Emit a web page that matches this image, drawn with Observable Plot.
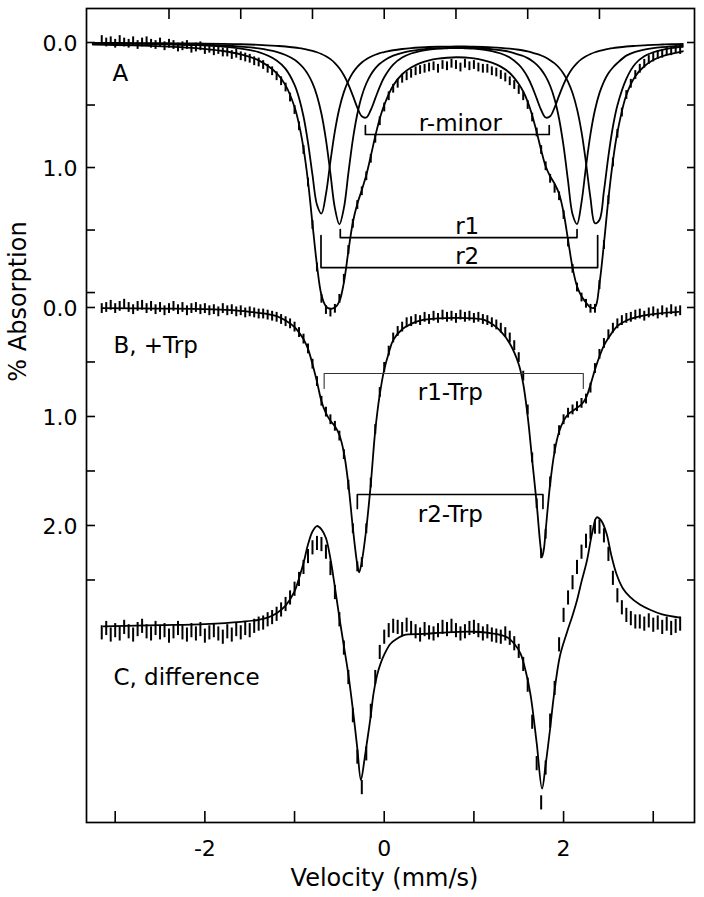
<!DOCTYPE html>
<html><head><meta charset="utf-8">
<script src="https://cdn.jsdelivr.net/npm/d3@7"></script>
<script src="https://cdn.jsdelivr.net/npm/@observablehq/plot@0.6"></script>
<style>
body{margin:0;background:#fff;}
#chart svg{font-family:"DejaVu Sans",sans-serif;}
</style></head><body><div id="chart"></div><script>
// ---- panel placement (spectra stacked on one velocity axis) ----
const panelOffset = {A: -2.431, B: 0, C: 2.945};
const panelScale = {A: 1.147, B: 1, C: 1};
const Y = (p, v) => panelOffset[p] + panelScale[p] * v;

// ---- measured channels (velocity, mm/s) ----
const channelV = [-3.15,-3.1,-3.05,-3,-2.95,-2.9,-2.85,-2.8,-2.75,-2.7,-2.65,-2.6,-2.55,-2.5,-2.45,-2.4,-2.35,-2.3,-2.25,-2.2,-2.15,-2.1,-2.05,-2,-1.95,-1.9,-1.85,-1.8,-1.75,-1.7,-1.65,-1.6,-1.55,-1.5,-1.45,-1.4,-1.35,-1.3,-1.25,-1.2,-1.15,-1.1,-1.05,-1,-0.95,-0.9,-0.85,-0.8,-0.75,-0.7,-0.65,-0.6,-0.55,-0.5,-0.45,-0.4,-0.35,-0.3,-0.25,-0.2,-0.15,-0.1,-0.05,0,0.05,0.1,0.15,0.2,0.25,0.3,0.35,0.4,0.45,0.5,0.55,0.6,0.65,0.7,0.75,0.8,0.85,0.9,0.95,1,1.05,1.1,1.15,1.2,1.25,1.3,1.35,1.4,1.45,1.5,1.55,1.6,1.65,1.7,1.75,1.8,1.85,1.9,1.95,2,2.05,2.1,2.15,2.2,2.25,2.3,2.35,2.4,2.45,2.5,2.55,2.6,2.65,2.7,2.75,2.8,2.85,2.9,2.95,3,3.05,3.1,3.15,3.2,3.25,3.3];

// % absorption x100 at each channel
const dataA = [-2,0,-1,1,-2,0,1,-1,2,0, -1,1,2,0,3,1,2,4,3,2, 5,4,3,6,5,7,6,8,8,10, 9,11,12,13,15,16,18,21,23,27,
  31,36,44,54,67,86,112,146,180,205, 214,216,213,205,189,166,145,130,119,107, 93,77,63,52,43,37,33,29,27,25,
  23,22,21,20,19,21,18,19,17,18, 20,17,19,18,20,21,21,23,24,26, 28,31,34,38,43,50,60,72,86,99,
  109,117,123,138,160,181,196,204,209,213, 213,194,162,126,96,73,56,42,33,26, 21,17,14,12,10,9,7,7,5,6];
const dataB = [1,0,-2,1,-1,-3,0,2,-1,-2, 1,-1,2,0,3,1,-1,2,0,3, 1,0,2,1,3,2,4,1,3,2, 4,3,5,4,5,6,6,7,8,9,
  11,13,15,18,23,29,38,52,68,86, 96,103,109,118,135,163,203,238,234,203, 161,112,78,55,40,28,22,18,14,13,
  11,12,9,11,8,10,7,9,8,10, 7,9,8,10,9,11,12,14,16,19, 23,28,35,46,63,94,138,180,226,208,
  160,130,113,103,97,94,91,88,84,74, 56,43,33,25,19,15,12,10,9,7, 6,8,5,4,6,3,5,2,4,3];
const dataC = [4,0,6,2,5,-1,3,6,1,-2, 3,5,0,4,2,7,3,0,4,6, 2,5,1,7,4,2,5,8,3,6, 1,4,0,2,-2,-4,-5,-8,-10,-13,
  -17,-22,-28,-36,-45,-56,-66,-74,-78,-77, -70,-55,-33,-8,18,45,80,118,146,115, 76,45,22,8,2,-2,-1,1,-3,0,
  3,6,1,4,5,2,-1,1,-2,2, 5,3,0,-1,2,5,3,6,7,8, 5,9,14,21,33,52,86,124,160,128,
  85,55,15,-12,-28,-42,-56,-70,-80,-88, -93,-93,-85,-68,-46,-30,-19,-12,-9,-6, -6,-4,-7,-3,-5,-1,-4,0,-2,-4];
const errorBar = {A: 0.035, B: 0.045, C: 0.065};

// ---- fitted curves ----
const fitVA = [-3.25,-3,-2.7,-2.4,-2.1,-1.8,-1.6,-1.4,-1.2,-1.1,-1,-0.95,-0.9,-0.85,-0.8,-0.75,-0.7,-0.65,-0.6,-0.55,-0.5,-0.45,-0.4,-0.35,-0.3,-0.25,-0.2,-0.15,-0.1,-0.05,0,0.1,0.2,0.3,0.4,0.5,0.6,0.7,0.8,0.9,1,1.1,1.2,1.3,1.4,1.5,1.55,1.6,1.65,1.7,1.75,1.8,1.85,1.9,1.95,2,2.05,2.1,2.15,2.2,2.25,2.3,2.35,2.4,2.45,2.5,2.55,2.6,2.7,2.8,2.9,3,3.1,3.2,3.33];
const fitAminor = [0.003,0.004,0.005,0.006,0.008,0.011,0.014,0.019,0.027,0.032,0.040,0.045,0.051,0.058,0.067,0.078,0.092,0.110,0.133,0.164,0.206,0.262,0.334,0.425,0.52,0.59,0.60,0.54,0.447,0.355,0.278,0.177,0.12,0.088,0.068,0.056,0.049,0.046,0.044,0.046,0.049,0.056,0.068,0.088,0.12,0.177,0.22,0.278,0.355,0.447,0.54,0.60,0.59,0.52,0.425,0.334,0.262,0.206,0.164,0.133,0.110,0.092,0.078,0.067,0.058,0.051,0.045,0.040,0.032,0.027,0.023,0.019,0.016,0.014,0.012];
const fitAr1 = [0.006,0.007,0.009,0.012,0.016,0.024,0.033,0.047,0.075,0.100,0.138,0.167,0.204,0.255,0.325,0.425,0.570,0.776,1.047,1.325,1.454,1.325,1.047,0.776,0.572,0.427,0.328,0.258,0.207,0.170,0.143,0.105,0.082,0.067,0.057,0.050,0.046,0.043,0.042,0.042,0.044,0.048,0.054,0.062,0.075,0.097,0.108,0.125,0.148,0.177,0.217,0.271,0.346,0.454,0.610,0.829,1.109,1.373,1.452,1.278,0.992,0.732,0.540,0.405,0.312,0.246,0.200,0.164,0.105,0.075,0.057,0.045,0.037,0.031,0.025];
const fitAr2 = [0.007,0.008,0.011,0.015,0.021,0.033,0.048,0.077,0.143,0.211,0.338,0.443,0.592,0.80,1.059,1.297,1.368,1.213,0.951,0.709,0.526,0.397,0.307,0.242,0.195,0.160,0.134,0.114,0.098,0.085,0.077,0.062,0.052,0.045,0.040,0.036,0.034,0.033,0.032,0.032,0.034,0.036,0.039,0.043,0.049,0.058,0.064,0.071,0.080,0.091,0.104,0.120,0.141,0.167,0.202,0.249,0.314,0.404,0.533,0.715,0.962,1.244,1.446,1.42,1.189,0.908,0.674,0.503,0.29,0.17,0.11,0.078,0.058,0.045,0.035];
const fitAtotal = [0.016,0.020,0.025,0.033,0.045,0.068,0.095,0.143,0.245,0.343,0.516,0.655,0.847,1.11,1.45,1.78,2.02,2.11,2.13,2.12,2.07,1.92,1.67,1.44,1.29,1.18,1.06,0.91,0.75,0.61,0.50,0.344,0.254,0.20,0.165,0.142,0.129,0.122,0.118,0.12,0.127,0.14,0.161,0.193,0.244,0.332,0.392,0.474,0.583,0.715,0.861,0.99,1.07,1.13,1.21,1.36,1.58,1.80,1.95,2.03,2.08,2.12,2.12,1.93,1.61,1.25,0.95,0.72,0.42,0.27,0.19,0.14,0.11,0.09,0.07];

const fitVB = [-3.15,-2.5,-2.0,-1.7,-1.5,-1.3,-1.2,-1.1,-1.0,-0.95,-0.9,-0.85,-0.8,-0.75,-0.7,-0.65,-0.6,-0.55,-0.5,-0.45,-0.4,-0.35,-0.3,-0.28,-0.25,-0.2,-0.15,-0.1,-0.05,0,0.05,0.1,0.2,0.3,0.4,0.6,0.8,1.0,1.1,1.2,1.3,1.4,1.5,1.55,1.6,1.65,1.7,1.74,1.76,1.78,1.8,1.85,1.9,1.95,2.0,2.05,2.1,2.15,2.2,2.25,2.3,2.35,2.4,2.45,2.5,2.6,2.7,2.8,3.0,3.28];
const fitB = [0.005,0.01,0.015,0.025,0.04,0.06,0.08,0.12,0.18,0.23,0.29,0.38,0.52,0.68,0.86,0.97,1.04,1.09,1.17,1.33,1.62,2.02,2.36,2.43,2.33,2.03,1.62,1.13,0.80,0.57,0.42,0.30,0.20,0.15,0.12,0.10,0.095,0.10,0.11,0.15,0.22,0.33,0.52,0.70,1.00,1.40,1.80,2.17,2.29,2.22,2.05,1.62,1.32,1.14,1.04,0.98,0.95,0.92,0.89,0.83,0.71,0.57,0.45,0.35,0.28,0.17,0.12,0.09,0.06,0.04];

const fitVC = [-3.13,-2.5,-2.0,-1.6,-1.4,-1.3,-1.2,-1.1,-1.0,-0.95,-0.9,-0.85,-0.8,-0.75,-0.7,-0.65,-0.6,-0.55,-0.5,-0.45,-0.4,-0.35,-0.3,-0.26,-0.22,-0.19,-0.15,-0.12,-0.08,-0.04,0,0.07,0.15,0.22,0.44,0.7,1.0,1.2,1.37,1.45,1.52,1.58,1.63,1.7,1.76,1.8,1.85,1.89,1.96,2.04,2.1,2.15,2.2,2.26,2.32,2.37,2.42,2.48,2.53,2.59,2.66,2.74,2.85,2.97,3.1,3.3];
const fitC = [-0.02,-0.03,-0.04,-0.06,-0.08,-0.10,-0.14,-0.21,-0.34,-0.46,-0.60,-0.77,-0.89,-0.94,-0.91,-0.83,-0.64,-0.38,-0.10,0.16,0.42,0.74,1.10,1.39,1.20,1.03,0.80,0.60,0.43,0.32,0.24,0.14,0.09,0.06,0.05,0.035,0.03,0.045,0.08,0.14,0.23,0.40,0.60,1.05,1.47,1.25,0.92,0.63,0.25,0.03,-0.12,-0.26,-0.43,-0.62,-0.88,-1.02,-0.99,-0.87,-0.68,-0.50,-0.37,-0.29,-0.22,-0.17,-0.13,-0.10];

// ---- quadrupole doublet brackets ----
const bracketName = ["r-minor", "r1", "r2", "r1-Trp", "r2-Trp"];
const bracketPanel = ["A", "A", "A", "B", "B"];
const bracketLeft = [-0.21, -0.49, -0.705, -0.67, -0.30];
const bracketRight = [1.84, 2.15, 2.38, 2.22, 1.77];
const bracketLevel = [0.736, 1.56, 1.80, 0.605, 1.716];
const bracketTickEnd = [0.664, 1.496, 1.544, 0.743, 1.844];
const bracketLabelX = [0.85, 0.925, 0.925, 0.736, 0.736];
const bracketLabelLevel = [0.704, 1.528, 1.768, 0.853, 1.972];

// ---- panel captions ----
const captionText = ["A", "B, +Trp", "C, difference"];
const captionPanel = ["A", "B", "C"];
const captionX = [-3.03, -3.02, -3.02];
const captionLevel = [0.304, 0.422, 0.514];

// ---- axis ticks ----
const xTicksBottom = [-3, -2, -1, 0, 1, 2, 3];
const xLabelTicks = [-2, 0, 2];
const xTicksTop = [-2.4, -1.6, -0.8, 0, 0.8, 1.6, 2.4];
const yTicksA = [0, 0.5, 1, 1.5, 2];
const yTicksB = [0, 0.5, 1, 1.5, 2, 2.5];
const yLabelsA = [0, 1];
const yLabelsB = [0, 1, 2];

// ---- build tables ----
const dataRows = [];
[["A", dataA], ["B", dataB], ["C", dataC]].forEach(([p, arr]) => arr.forEach((val, i) => {
  dataRows.push({v: channelV[i], lo: Y(p, val / 100 - errorBar[p]), hi: Y(p, val / 100 + errorBar[p])});
}));
const fitRows = [];
function addFit(name, p, vs, ys) { vs.forEach((v, i) => fitRows.push({name, v, y: Y(p, ys[i])})); }
addFit("A r-minor", "A", fitVA, fitAminor);
addFit("A r1", "A", fitVA, fitAr1);
addFit("A r2", "A", fitVA, fitAr2);
addFit("A total", "A", fitVA, fitAtotal);
addFit("B", "B", fitVB, fitB);
addFit("C", "C", fitVC, fitC);

const bracketRows = [];
bracketName.forEach((n, i) => {
  const p = bracketPanel[i];
  [[bracketLeft[i], bracketTickEnd[i]], [bracketLeft[i], bracketLevel[i]], [bracketRight[i], bracketLevel[i]], [bracketRight[i], bracketTickEnd[i]]]
    .forEach(([v, l]) => bracketRows.push({name: n, v, y: Y(p, l), thin: n === "r1-Trp"}));
});
const bracketLabels = bracketName.map((n, i) => ({text: n, v: bracketLabelX[i], y: Y(bracketPanel[i], bracketLabelLevel[i])}));
const captions = captionText.map((t, i) => ({text: t, v: captionX[i], y: Y(captionPanel[i], captionLevel[i])}));

const yTickPos = [...yTicksA.map(t => Y("A", t)), ...yTicksB.map(t => Y("B", t))];
const yLabelPos = [...yLabelsA.map(t => Y("A", t)), ...yLabelsB.map(t => Y("B", t))];
const yLabelText = new Map([...yLabelsA.map(t => [Y("A", t), t.toFixed(1)]), ...yLabelsB.map(t => [Y("B", t), t.toFixed(1)])]);

const chart = Plot.plot({
  width: 704, height: 897,
  marginLeft: 86, marginRight: 10, marginTop: 8, marginBottom: 75,
  x: {domain: [-3.32, 3.46], label: null},
  y: {domain: [4.725, -2.743], label: null},
  style: {fontFamily: "DejaVu Sans, sans-serif", fontSize: "22px", color: "black", background: "white"},
  marks: [
    Plot.ruleX(dataRows, {x: "v", y1: "lo", y2: "hi", stroke: "black", strokeWidth: 2}),
    Plot.line(fitRows, {x: "v", y: "y", z: "name", stroke: "black", strokeWidth: 1.8, curve: "catmull-rom"}),
    Plot.line(bracketRows.filter(d => !d.thin), {x: "v", y: "y", z: "name", stroke: "black", strokeWidth: 1.7}),
    Plot.line(bracketRows.filter(d => d.thin), {x: "v", y: "y", z: "name", stroke: "#333", strokeWidth: 1.1}),
    Plot.text(bracketLabels, {x: "v", y: "y", text: "text", fontSize: 23, lineAnchor: "bottom", textAnchor: "middle", fill: "black"}),
    Plot.text(captions, {x: "v", y: "y", text: "text", fontSize: 23, lineAnchor: "bottom", textAnchor: "start", fill: "black"}),
    Plot.frame({stroke: "black", strokeWidth: 1.7}),
    Plot.axisX(xTicksBottom, {anchor: "bottom", tickSize: -11, fill: "none", stroke: "black", strokeWidth: 1.6, label: null}),
    Plot.axisX(xLabelTicks, {anchor: "bottom", tickSize: 0, tickPadding: 18, fontSize: 22, tickFormat: d => String(d), fill: "black", label: null}),
    Plot.axisX(xTicksTop, {anchor: "top", tickSize: -10, fill: "none", stroke: "black", strokeWidth: 1.6, label: null}),
    Plot.axisY(yTickPos, {anchor: "left", tickSize: -9, fill: "none", stroke: "black", strokeWidth: 1.6, label: null}),
    Plot.axisY(yTickPos, {anchor: "right", tickSize: -8, fill: "none", stroke: "black", strokeWidth: 1.6, label: null}),
    Plot.axisY(yLabelPos, {anchor: "left", tickSize: 0, tickPadding: 9, fontSize: 22, dy: 1, tickFormat: d => yLabelText.get(d), fill: "black", label: null}),
    Plot.text(["Velocity (mm/s)"], {frameAnchor: "bottom", dx: -6, dy: 63, lineAnchor: "bottom", textAnchor: "middle", fontSize: 24, fill: "black"}),
    Plot.text(["% Absorption"], {frameAnchor: "left", dx: -68, dy: -114, rotate: -90, lineAnchor: "middle", textAnchor: "middle", fontSize: 24, fill: "black"})
  ]
});
document.getElementById("chart").appendChild(chart);
</script></body></html>
